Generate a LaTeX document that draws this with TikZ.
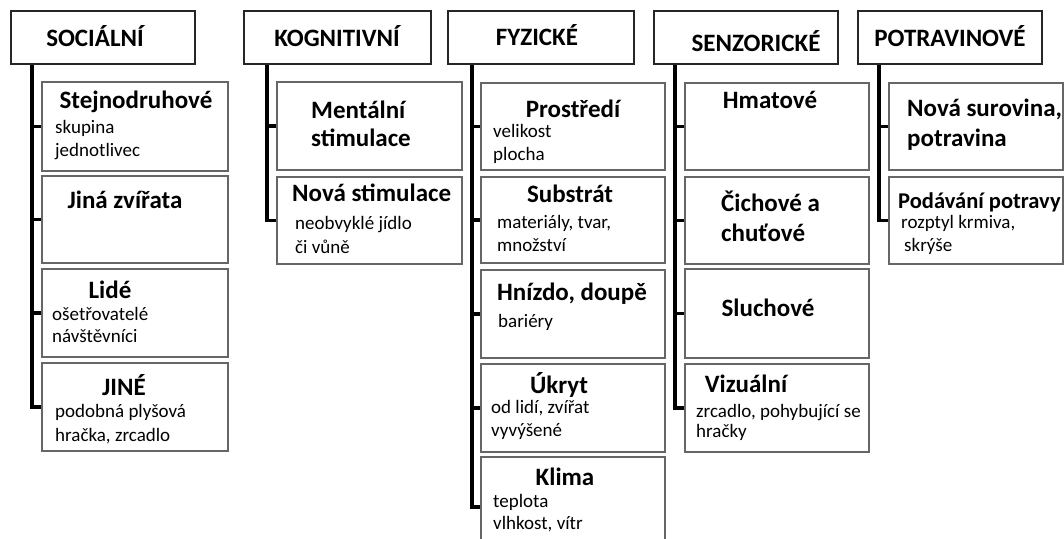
\documentclass[tikz,border=0pt]{standalone}
\usepackage{fontspec}
\setmainfont{Carlito}
\tikzset{
  hdr/.style={draw=black!85, line width=2.2pt, fill=white, anchor=north west, minimum height=53pt, inner sep=0pt},
  box/.style={draw=black!60, line width=2.2pt, fill=white, anchor=north west, inner sep=0pt},
  conn/.style={line width=3.6pt, black},
  ttl/.style={font=\bfseries\fontsize{25}{29}\selectfont, inner sep=0pt, text height=16pt, text depth=0pt},
  txt/.style={font=\fontsize{19}{23}\selectfont, inner sep=0pt, text height=12pt, text depth=0pt, anchor=west},
}
\begin{document}
\begin{tikzpicture}[x=1pt,y=-1pt]
\useasboundingbox (0,0) rectangle (1064,538);
\clip (0,0) rectangle (1064,538);
\fill[white] (0,0) rectangle (1064,538);

% headers
\node[hdr, minimum width=184pt] (sh) at (10,10) {};
\node[hdr, minimum width=187pt] (kh) at (243,10) {};
\node[hdr, minimum width=186pt] (fh) at (447,10) {};
\node[hdr, minimum width=184pt] (zh) at (653,10) {};
\node[hdr, minimum width=184pt] (ph) at (857,10) {};

% trunk starts
\coordinate (sT) at (sh.south west -| 32,0);
\coordinate (kT) at (kh.south west -| 267,0);
\coordinate (fT) at (fh.south west -| 472,0);
\coordinate (zT) at (zh.south west -| 675,0);
\coordinate (pT) at (ph.south west -| 879,0);

% SOCIALNI children
\node[box, minimum width=186pt, minimum height=89pt] (s1) at (41,81) {};
\node[box, minimum width=186pt, minimum height=87pt] (s2) at (41,175) {};
\node[box, minimum width=186pt, minimum height=88pt] (s3) at (41,268) {};
\node[box, minimum width=186pt, minimum height=88pt] (s4) at (41,362) {};
% KOGNITIVNI children
\node[box, minimum width=185pt, minimum height=88pt] (k1) at (276,81) {};
\node[box, minimum width=185pt, minimum height=87pt] (k2) at (276,176) {};
% FYZICKE children
\node[box, minimum width=184pt, minimum height=87pt] (f1) at (480,82) {};
\node[box, minimum width=184pt, minimum height=86pt] (f2) at (480,176) {};
\node[box, minimum width=184pt, minimum height=88pt] (f3) at (480,269) {};
\node[box, minimum width=184pt, minimum height=88pt] (f4) at (480,363) {};
\node[box, minimum width=184pt, minimum height=100pt] (f5) at (480,456) {};
% SENZORICKE children
\node[box, minimum width=184pt, minimum height=87pt] (z1) at (684,82) {};
\node[box, minimum width=184pt, minimum height=87pt] (z2) at (684,176) {};
\node[box, minimum width=184pt, minimum height=89pt] (z3) at (684,268) {};
\node[box, minimum width=184pt, minimum height=88pt] (z4) at (684,363) {};
% POTRAVINOVE children
\node[box, minimum width=174pt, minimum height=87pt] (p1) at (888,82) {};
\node[box, minimum width=174pt, minimum height=87pt] (p2) at (888,176) {};

% connectors
\foreach \c in {s1,s2,s3,s4} \draw[conn] (sT) |- (\c.west);
\foreach \c in {k1,k2} \draw[conn] (kT) |- (\c.west);
\foreach \c in {f1,f2,f3,f4,f5} \draw[conn] (fT) |- (\c.west);
\foreach \c in {z1,z2,z3,z4} \draw[conn] (zT) |- (\c.west);
\foreach \c in {p1,p2} \draw[conn] (pT) |- (\c.west);

% header texts
\node[ttl] (shT) at (95,38) {SOCIÁLNÍ};
\node[ttl] (khT) at (337,38) {KOGNITIVNÍ};
\node[ttl] (fhT) at (537,37) {FYZICKÉ};
\node[ttl] (zhT) at (756,43) {SENZORICKÉ};
\node[ttl] (phT) at (950,38) {POTRAVINOVÉ};

% SOCIALNI texts
\node[ttl] at (136,100) {Stejnodruhové};
\node[txt] at (55,127) {skupina};
\node[txt] at (55,150) {jednotlivec};
\node[ttl] at (125,200) {Jiná zvířata};
\node[ttl] at (110,290) {Lidé};
\node[txt] at (52,314) {ošetřovatelé};
\node[txt] at (52,336) {návštěvníci};
\node[ttl] at (124,387) {JINÉ};
\node[txt] at (55,411) {podobná plyšová};
\node[txt] at (55,435) {hračka, zrcadlo};

% KOGNITIVNI texts
\node[ttl, anchor=west] at (311,110) {Mentální};
\node[ttl, anchor=west] at (311,138) {stimulace};
\node[ttl, anchor=west] at (292,193) {Nová stimulace};
\node[txt] at (295,223) {neobvyklé jídlo};
\node[txt] at (295,247) {či vůně};

% FYZICKE texts
\node[ttl] at (573,109) {Prostředí};
\node[txt] at (493,131) {velikost};
\node[txt] at (493,154) {plocha};
\node[ttl] at (570,194) {Substrát};
\node[txt] at (497,222) {materiály, tvar,};
\node[txt] at (497,245) {množství};
\node[ttl] at (572,292) {Hnízdo, doupě};
\node[txt] at (498,321) {bariéry};
\node[ttl] at (559,385) {Úkryt};
\node[txt] at (491,407) {od lidí, zvířat};
\node[txt] at (491,430) {vyvýšené};
\node[ttl] at (565,477) {Klima};
\node[txt] at (493,501) {teplota};
\node[txt] at (493,523) {vlhkost, vítr};

% SENZORICKE texts
\node[ttl] at (770,100) {Hmatové};
\node[ttl, anchor=west] at (721,203) {Čichové a};
\node[ttl, anchor=west] at (721,233) {chuťové};
\node[ttl] at (768,308) {Sluchové};
\node[ttl] at (746,384) {Vizuální};
\node[txt] at (696,411) {zrcadlo, pohybující se};
\node[txt] at (696,431) {hračky};

% POTRAVINOVE texts
\node[ttl, anchor=west] at (907,108) {Nová surovina,};
\node[ttl, anchor=west] at (907,138) {potravina};
\node[ttl, anchor=west, font=\bfseries\fontsize{22.5}{26}\selectfont] at (898,200) {Podávání potravy};
\node[txt] at (901,222) {rozptyl krmiva,};
\node[txt] at (904,245) {skrýše};
\end{tikzpicture}
\end{document}
